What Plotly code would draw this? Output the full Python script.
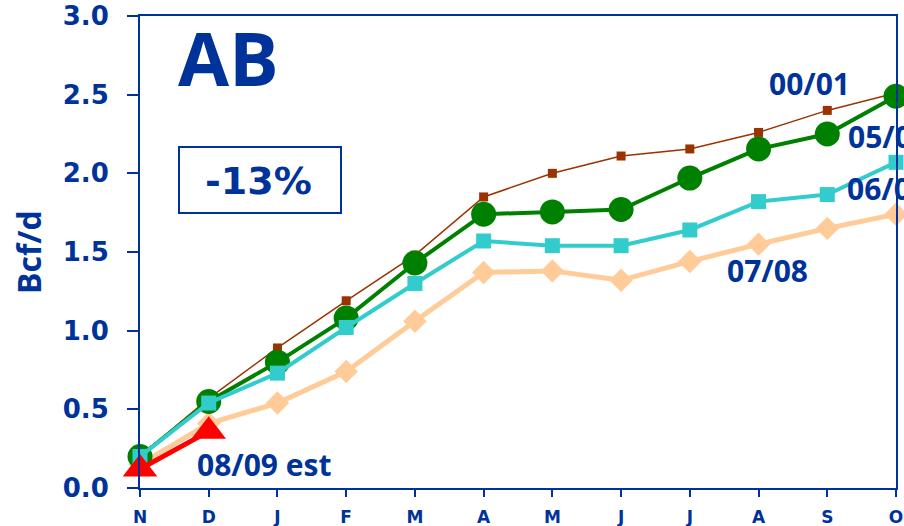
import plotly.graph_objects as go

months = ["N", "D", "J", "F", "M", "A", "M ", "J ", "J  ", "A ", "S", "O"]
tick_text = ["N", "D", "J", "F", "M", "A", "M", "J", "J", "A", "S", "O"]

s0001 = [0.20, 0.57, 0.89, 1.19, 1.48, 1.85, 2.00, 2.11, 2.155, 2.26, 2.40, 2.51]
s0506 = [0.20, 0.55, 0.80, 1.08, 1.43, 1.74, 1.755, 1.77, 1.97, 2.155, 2.25, 2.49]
s0607 = [0.20, 0.54, 0.73, 1.02, 1.30, 1.57, 1.54, 1.54, 1.64, 1.82, 1.865, 2.07]
s0708 = [0.15, 0.41, 0.54, 0.74, 1.06, 1.37, 1.38, 1.32, 1.44, 1.55, 1.65, 1.74]
s0809 = [0.12, 0.36]

BLUE = "#003399"

fig = go.Figure()
fig.add_trace(go.Scatter(x=months, y=s0001, mode="lines+markers",
                         line=dict(color="#993300", width=1.5),
                         marker=dict(symbol="square", size=9, color="#993300"),
                         cliponaxis=False))
fig.add_trace(go.Scatter(x=months, y=s0708, mode="lines+markers",
                         line=dict(color="#FFCC99", width=5),
                         marker=dict(symbol="diamond", size=18, color="#FFCC99"),
                         cliponaxis=False))
fig.add_trace(go.Scatter(x=months, y=s0506, mode="lines+markers",
                         line=dict(color="#008000", width=4),
                         marker=dict(symbol="circle", size=25, color="#008000"),
                         cliponaxis=False))
fig.add_trace(go.Scatter(x=months, y=s0607, mode="lines+markers",
                         line=dict(color="#33CCCC", width=4),
                         marker=dict(symbol="square", size=15, color="#33CCCC"),
                         cliponaxis=False))
fig.add_trace(go.Scatter(x=months[:2], y=s0809, mode="lines+markers",
                         line=dict(color="#FF0000", width=5),
                         marker=dict(symbol="triangle-up", size=30, color="#FF0000"),
                         cliponaxis=False))

fig.update_layout(
    width=904, height=526,
    margin=dict(l=140, r=8, t=16, b=38),
    paper_bgcolor="white", plot_bgcolor="white",
    showlegend=False,
    font=dict(family="DejaVu Sans", color=BLUE),
)
fig.update_xaxes(
    type="category", categoryorder="array", categoryarray=months,
    tickvals=months, ticktext=tick_text,
    range=[0, 11], showgrid=False, zeroline=False, automargin=False,
    showline=True, linecolor=BLUE, linewidth=2, mirror=True,
    ticks="outside", ticklen=7, tickwidth=2, tickcolor=BLUE,
    ticklabelstandoff=6, ticklabeloverflow="allow",
    tickfont=dict(family="DejaVu Sans", size=17, color=BLUE, weight="bold"),
)
fig.update_yaxes(
    range=[0, 3.0], dtick=0.5, tickformat=".1f",
    showgrid=False, zeroline=False, automargin=False,
    showline=True, linecolor=BLUE, linewidth=2, mirror=True,
    ticks="outside", ticklen=11, tickwidth=2, tickcolor=BLUE,
    ticklabelstandoff=13, ticklabeloverflow="allow",
    tickfont=dict(family="DejaVu Sans", size=26, color=BLUE, weight="bold"),
)

W, H = 756, 472
def px(x):  # window pixel -> paper
    return (x - 140) / W
def py(y):
    return (488 - y) / H

def ann(text, x, y, size, xanchor="center", yanchor="middle", family="Open Sans", angle=0):
    fig.add_annotation(text=text, x=px(x), y=py(y), xref="paper", yref="paper",
                       xanchor=xanchor, yanchor=yanchor, showarrow=False,
                       textangle=angle,
                       font=dict(family=family, size=size, color=BLUE, weight="bold"))

ann("Bcf/d", 28, 252, 32, angle=-90)
ann("AB", 176, 58, 74, xanchor="left")
ann("-13%", 258, 181, 38, family="DejaVu Sans")
ann("00/01", 809, 84, 30)
ann("05/06", 846, 136, 30, xanchor="left")
ann("06/07", 845, 188, 30, xanchor="left")
ann("07/08", 767, 270, 30)
ann("08/09 est", 195, 464, 30, xanchor="left")

fig.add_shape(type="rect", xref="paper", yref="paper",
              x0=px(179), x1=px(341), y0=py(213), y1=py(147),
              line=dict(color=BLUE, width=2))

# remove the default page margin so the 904x526 figure fills the window
fig.write_html("out.html",
               config={"displayModeBar": False},
               post_script="document.body.style.margin='0';document.body.style.overflow='hidden';")
